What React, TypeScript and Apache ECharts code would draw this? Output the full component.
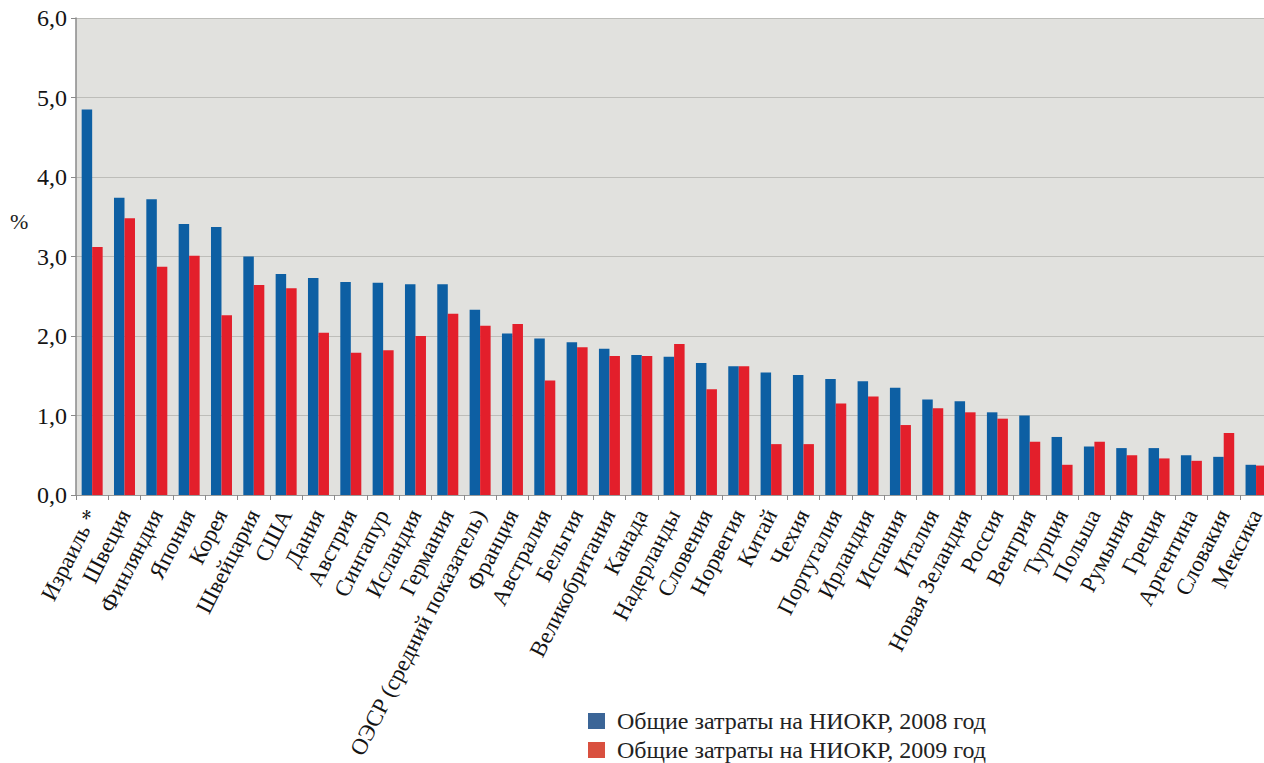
import React, { useEffect, useRef } from "react";
import * as echarts from "echarts";

const categories = [
  "Израиль *", "Швеция", "Финляндия", "Япония", "Корея", "Швейцария", "США",
  "Дания", "Австрия", "Сингапур", "Исландия", "Германия",
  "ОЭСР (средний показатель)", "Франция", "Австралия", "Бельгия",
  "Великобритания", "Канада", "Надерланды", "Словения", "Норвегия", "Китай",
  "Чехия", "Португалия", "Ирландия", "Испания", "Италия", "Новая Зеландия",
  "Россия", "Венгрия", "Турция", "Польша", "Румыния", "Греция", "Аргентина",
  "Словакия", "Мексика",
];

const values2008 = [
  4.85, 3.74, 3.72, 3.41, 3.37, 3.0, 2.78, 2.73, 2.68, 2.67, 2.65, 2.65,
  2.33, 2.03, 1.97, 1.92, 1.84, 1.76, 1.74, 1.66, 1.62, 1.54, 1.51, 1.46,
  1.43, 1.35, 1.2, 1.18, 1.04, 1.0, 0.73, 0.61, 0.59, 0.59, 0.5, 0.48, 0.38,
];

const values2009 = [
  3.12, 3.48, 2.87, 3.01, 2.26, 2.64, 2.6, 2.04, 1.79, 1.82, 2.0, 2.28,
  2.13, 2.15, 1.44, 1.86, 1.75, 1.75, 1.9, 1.33, 1.62, 0.64, 0.64, 1.15,
  1.24, 0.88, 1.09, 1.04, 0.96, 0.67, 0.38, 0.67, 0.5, 0.46, 0.43, 0.78, 0.37,
];

const seriesNames = [
  "Общие затраты на НИОКР, 2008 год",
  "Общие затраты на НИОКР, 2009 год",
];

const yTicks = [0, 1, 2, 3, 4, 5, 6];
const yUnit = "%";

const FONT = "'Liberation Serif', 'Times New Roman', serif";

export default function App() {
  const ref = useRef<HTMLDivElement>(null);

  useEffect(() => {
    if (!ref.current) return;
    const chart = echarts.init(ref.current, undefined, { renderer: "svg" });
    const legendBase = {
      orient: "horizontal",
      left: 588,
      padding: 0,
      itemWidth: 17,
      itemHeight: 16,
      icon: "rect",
      textStyle: {
        fontFamily: FONT,
        fontSize: 24,
        color: "#222",
        padding: [0, 0, 0, 7],
      },
    };
    chart.setOption({
      animation: false,
      backgroundColor: "#ffffff",
      textStyle: { fontFamily: FONT },
      grid: {
        left: 76,
        top: 18,
        width: 32.33 * categories.length,
        height: 477,
        show: true,
        backgroundColor: "#e1e1de",
        borderWidth: 0,
        containLabel: false,
        outerBoundsMode: "none",
      },
      legend: [
        {
          ...legendBase,
          top: 709,
          data: [{ name: seriesNames[0], itemStyle: { color: "#3b6597" } }],
        },
        {
          ...legendBase,
          top: 738,
          data: [{ name: seriesNames[1], itemStyle: { color: "#d9503f" } }],
        },
      ],
      graphic: [
        {
          type: "text",
          left: 10,
          top: 210,
          style: { text: yUnit, fontFamily: FONT, fontSize: 22, fill: "#222" },
        },
      ],
      xAxis: {
        type: "category",
        data: categories,
        boundaryGap: true,
        axisLine: { show: true, lineStyle: { color: "#9a9a9a", width: 1 } },
        axisTick: {
          show: true,
          alignWithLabel: false,
          length: 5,
          lineStyle: { color: "#8a8a8a" },
        },
        axisLabel: {
          interval: 0,
          rotate: 63,
          margin: 16,
          fontFamily: FONT,
          fontSize: 23,
          color: "#141414",
        },
      },
      yAxis: {
        type: "value",
        min: yTicks[0],
        max: yTicks[yTicks.length - 1],
        interval: 1,
        axisLine: { show: true, lineStyle: { color: "#8a8a8a", width: 1.5 } },
        axisTick: { show: true, length: 5, lineStyle: { color: "#8a8a8a" } },
        splitLine: { show: true, lineStyle: { color: "#bdbdb9", width: 1.2 } },
        axisLabel: {
          margin: 9,
          fontFamily: FONT,
          fontSize: 24,
          color: "#141414",
          formatter: (v: number) => v.toFixed(1).replace(".", ","),
        },
      },
      series: [
        {
          name: seriesNames[0],
          type: "bar",
          data: values2008,
          barWidth: 10.5,
          barGap: "0%",
          itemStyle: { color: "#0d5fa3" },
        },
        {
          name: seriesNames[1],
          type: "bar",
          data: values2009,
          barWidth: 10.5,
          barGap: "0%",
          itemStyle: { color: "#e31f2b" },
        },
      ],
    });
    return () => chart.dispose();
  }, []);

  return (
    <div
      ref={ref}
      style={{ position: "absolute", left: 0, top: 0, width: 1264, height: 763 }}
    />
  );
}
